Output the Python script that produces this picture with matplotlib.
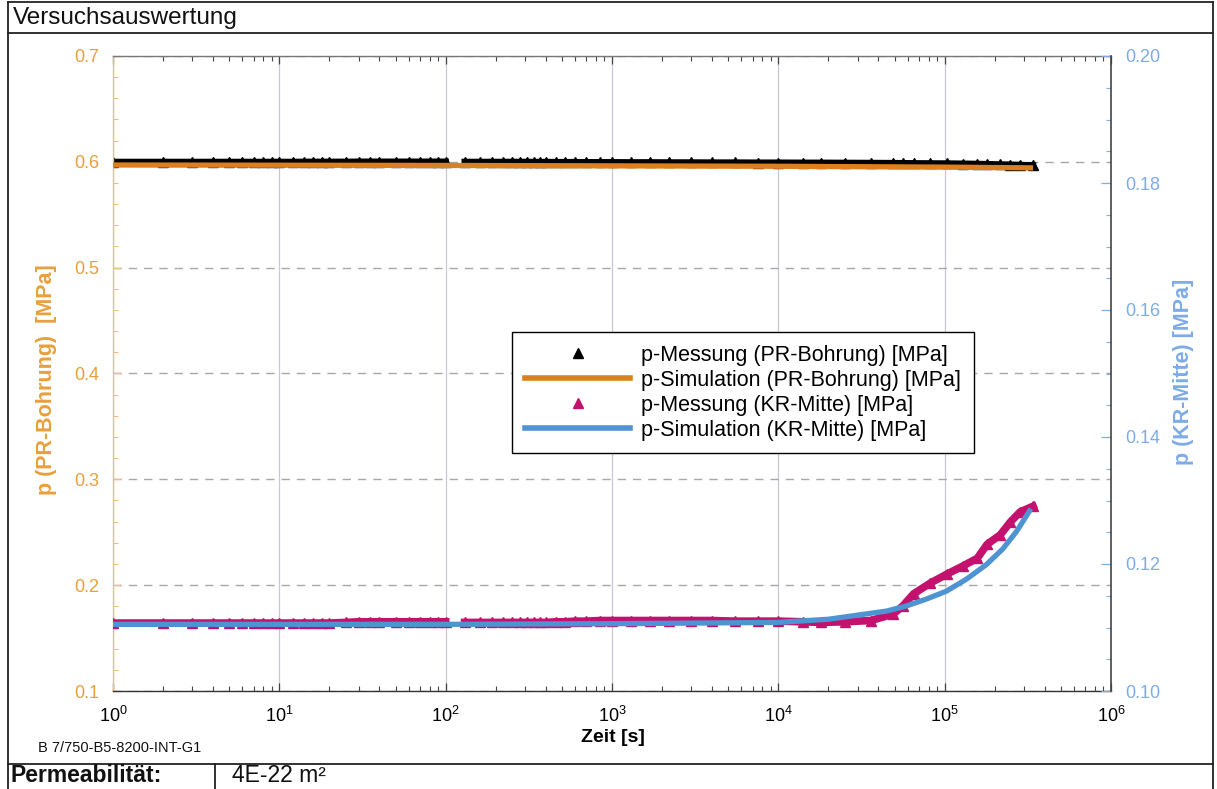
import matplotlib
matplotlib.use("Agg")
import matplotlib.pyplot as plt
from matplotlib.lines import Line2D
from matplotlib.ticker import MultipleLocator, LogLocator, FormatStrFormatter, NullFormatter

plt.rcParams["font.family"] = ["Liberation Sans", "DejaVu Sans"]
plt.rcParams["mathtext.fontset"] = "custom"
plt.rcParams["mathtext.rm"] = "Liberation Sans"
plt.rcParams["mathtext.it"] = "Liberation Sans:italic"
plt.rcParams["mathtext.bf"] = "Liberation Sans:bold"

# ---- measured pressures, phase 1 (1 s logging interval) ----
t_phase1 = [1, 2, 3, 4, 5, 6, 7, 8, 9, 10, 12, 14, 16, 18, 20, 25, 30, 35, 40,
            50, 60, 70, 80, 90, 100]
pr_phase1 = [0.6000, 0.6000, 0.6000, 0.6000, 0.6000, 0.6000, 0.6000, 0.6000,
             0.6000, 0.6000, 0.6000, 0.6001, 0.6001, 0.6001, 0.6001, 0.6001,
             0.6002, 0.6002, 0.6002, 0.6002, 0.6002, 0.6002, 0.6002, 0.6002,
             0.6002]
kr_phase1 = [0.1107, 0.1107, 0.1107, 0.1107, 0.1107, 0.1107, 0.1107, 0.1107,
             0.1107, 0.1107, 0.1107, 0.1107, 0.1107, 0.1107, 0.1107, 0.1108,
             0.1109, 0.1109, 0.1109, 0.1109, 0.1109, 0.1109, 0.1109, 0.1109,
             0.1109]

# ---- measured pressures, phase 2 (30 s logging interval) ----
t_phase2 = [130, 160, 190, 220, 250, 280, 310, 340, 370, 400, 460, 520, 600,
            700, 850, 1000, 1300, 1700, 2200, 3000, 4000, 5500, 7500, 1.0e4,
            1.4e4, 1.8e4, 2.5e4, 3.6e4, 4.9e4, 5.6e4, 6.5e4, 8.2e4, 1.03e5,
            1.29e5, 1.57e5, 1.80e5, 2.16e5, 2.48e5, 2.84e5, 3.40e5]
pr_phase2 = [0.6000, 0.6000, 0.6000, 0.6000, 0.6000, 0.6000, 0.6000, 0.5999,
             0.5999, 0.5999, 0.5998, 0.5998, 0.5998, 0.5997, 0.5997, 0.5997,
             0.5996, 0.5996, 0.5995, 0.5995, 0.5994, 0.5994, 0.5993, 0.5993,
             0.5992, 0.5992, 0.5991, 0.5990, 0.5989, 0.5988, 0.5987, 0.5986,
             0.5985, 0.5983, 0.5981, 0.5979, 0.5976, 0.5974, 0.5971, 0.5968]
kr_phase2 = [0.1108, 0.1108, 0.1108, 0.1108, 0.1108, 0.1108, 0.1108, 0.1108,
             0.1108, 0.1108, 0.1109, 0.1109, 0.1110, 0.1110, 0.1111, 0.1111,
             0.1111, 0.1111, 0.1111, 0.1111, 0.1111, 0.1110, 0.1110, 0.1110,
             0.1109, 0.1108, 0.1109, 0.1111, 0.1121, 0.1134, 0.1153, 0.1170,
             0.1184, 0.1197, 0.1209, 0.1231, 0.1246, 0.1266, 0.1282, 0.1291]

# ---- simulated pressures ----
t_sim_pr = [1, 10, 100, 1.0e3, 1.0e4, 1.0e5, 3.4e5]
pr_sim = [0.5970, 0.5968, 0.5966, 0.5962, 0.5958, 0.5950, 0.5943]

t_sim_kr = [1, 10, 100, 1.0e3, 1.0e4, 2.0e4, 4.5e4, 5.9e4, 7.8e4, 1.02e5,
            1.35e5, 1.78e5, 2.24e5, 2.70e5, 3.30e5]
kr_sim = [0.1105, 0.1105, 0.1105, 0.1106, 0.1108, 0.1113, 0.1126, 0.1134,
          0.1145, 0.1157, 0.1176, 0.1199, 0.1224, 0.1251, 0.1287]

legend_labels = ["p-Messung (PR-Bohrung) [MPa]",
                 "p-Simulation (PR-Bohrung) [MPa]",
                 "p-Messung (KR-Mitte) [MPa]",
                 "p-Simulation (KR-Mitte) [MPa]"]
x_ticks = [1, 10, 100, 1e3, 1e4, 1e5, 1e6]
x_tick_labels = [r"$10^{%d}$" % k for k in range(7)]

ORANGE = "#DD7F1F"
ORANGE_TXT = "#E8A03C"
BLUE = "#4E93D2"
BLUE_TXT = "#7EACE6"
MAGENTA = "#C4116E"

W, H = 1217, 789
fig = plt.figure(figsize=(W / 100, H / 100), dpi=100)


def fx(px):
    return px / W


def fy(py):
    return 1 - py / H


ax = fig.add_axes([fx(113), fy(691), 998 / W, 635 / H])
ax2 = ax.twinx()

ax.set_xscale("log")
ax.set_xlim(1, 1e6)
ax.set_ylim(0.1, 0.7)
ax2.set_ylim(0.10, 0.20)

# measurements (drawn first), simulations on top
for t, p in ((t_phase1, pr_phase1), (t_phase2, pr_phase2)):
    ax.plot(t, p, color="black", lw=4.5, marker="^", ms=6.5, zorder=2)
ax.plot(t_sim_pr, pr_sim, color=ORANGE, lw=3.8, zorder=3, solid_capstyle="butt")

for t, p in ((t_phase1, kr_phase1), (t_phase2, kr_phase2)):
    ax2.plot(t, p, color=MAGENTA, lw=5.5, marker="^", ms=6.5, zorder=2)
ax2.plot(t_sim_kr, kr_sim, color=BLUE, lw=3.8, zorder=3, solid_capstyle="butt")

# grid
ax.set_axisbelow(True)
ax.grid(axis="x", which="major", color="#C8C8D2", lw=0.9, ls="-")
ax.grid(axis="y", which="major", color="#A8A8A8", lw=1.0, ls=(0, (6, 5)))

# x axis
ax.xaxis.set_minor_locator(LogLocator(base=10, subs=range(2, 10), numticks=20))
ax.xaxis.set_minor_formatter(NullFormatter())
ax.set_xticks(x_ticks)
ax.set_xticklabels(x_tick_labels)
ax.tick_params(axis="x", which="both", direction="in", top=True, bottom=True,
               color="#444444", labelcolor="black", labelsize=13, pad=11)
ax.tick_params(axis="x", which="major", length=6, width=0.9)
ax.tick_params(axis="x", which="minor", length=3.5, width=0.8)

# left y axis
ax.yaxis.set_major_locator(MultipleLocator(0.1))
ax.yaxis.set_minor_locator(MultipleLocator(0.02))
ax.yaxis.set_major_formatter(FormatStrFormatter("%.1f"))
ax.tick_params(axis="y", which="both", direction="in", left=True, right=False,
               color="#EDBE84", labelcolor=ORANGE_TXT, labelsize=13, pad=10)
ax.tick_params(axis="y", which="major", length=6, width=0.9)
ax.tick_params(axis="y", which="minor", length=3.5, width=0.8)

# right y axis
ax2.yaxis.set_major_locator(MultipleLocator(0.02))
ax2.yaxis.set_minor_locator(MultipleLocator(0.005))
ax2.yaxis.set_major_formatter(FormatStrFormatter("%.2f"))
ax2.tick_params(axis="y", which="both", direction="in", right=True, left=False,
                color=BLUE_TXT, labelcolor=BLUE_TXT, labelsize=13, pad=10)
ax2.tick_params(axis="y", which="major", length=7, width=0.9)
ax2.tick_params(axis="y", which="minor", length=3.5, width=0.8)

for name in ("left", "top", "bottom"):
    ax2.spines[name].set_visible(False)
ax.spines["right"].set_visible(False)
ax.spines["left"].set_color("#EDBE84")
ax.spines["top"].set_color("#777777")
ax.spines["bottom"].set_color("#333333")
ax2.spines["right"].set_color("#444444")
for sp in ("left", "top", "bottom"):
    ax.spines[sp].set_linewidth(1.0)
ax2.spines["right"].set_linewidth(1.2)

# axis titles
fig.text(fx(47), fy(380), "p (PR-Bohrung)  [MPa]", rotation=90, ha="center",
         va="center", color=ORANGE_TXT, fontsize=15.5, fontweight="bold")
fig.text(fx(1183), fy(372), "p (KR-Mitte) [MPa]", rotation=90, ha="center",
         va="center", color=BLUE_TXT, fontsize=15.5, fontweight="bold")
fig.text(fx(613), fy(738), "Zeit [s]", ha="center", va="center",
         fontsize=14, fontweight="bold")

# legend
handles = [
    Line2D([], [], color="black", marker="^", ls="none", ms=7),
    Line2D([], [], color=ORANGE, lw=4),
    Line2D([], [], color=MAGENTA, marker="^", ls="none", ms=7),
    Line2D([], [], color=BLUE, lw=4),
]
leg = ax2.legend(handles, legend_labels, loc="upper left",
                 bbox_to_anchor=(fx(512), fy(332)), bbox_transform=fig.transFigure,
                 fontsize=15.5, frameon=True, fancybox=False, edgecolor="black",
                 framealpha=1, handlelength=4.9, handletextpad=0.5,
                 labelspacing=0.18, borderpad=0.6, borderaxespad=0)
leg.get_frame().set_linewidth(1.0)
leg.set_zorder(10)

# report frame
def hline(y, x0, x1, lw=1.3):
    fig.add_artist(Line2D([fx(x0), fx(x1)], [fy(y), fy(y)], color="#222222", lw=lw,
                          transform=fig.transFigure))


def vline(x, y0, y1, lw=1.3):
    fig.add_artist(Line2D([fx(x), fx(x)], [fy(y0), fy(y1)], color="#222222", lw=lw,
                          transform=fig.transFigure))


hline(2, 8, 1213)
hline(33, 8, 1213)
hline(764, 8, 1213)
vline(8, 2, 789)
vline(1213, 2, 789)
vline(215, 764, 789)

fig.text(fx(13), fy(18), "Versuchsauswertung", ha="left", va="center",
         fontsize=17.5, color="#111111")
fig.text(fx(38), fy(748), "B 7/750-B5-8200-INT-G1", ha="left", va="center",
         fontsize=10.5, color="#111111")
fig.text(fx(11), fy(776), "Permeabilität:", ha="left", va="center",
         fontsize=16.5, fontweight="bold", color="#111111")
fig.text(fx(232), fy(776), "4E-22 m²", ha="left", va="center",
         fontsize=16.5, color="#111111")

fig.savefig("out.png", dpi=100)
